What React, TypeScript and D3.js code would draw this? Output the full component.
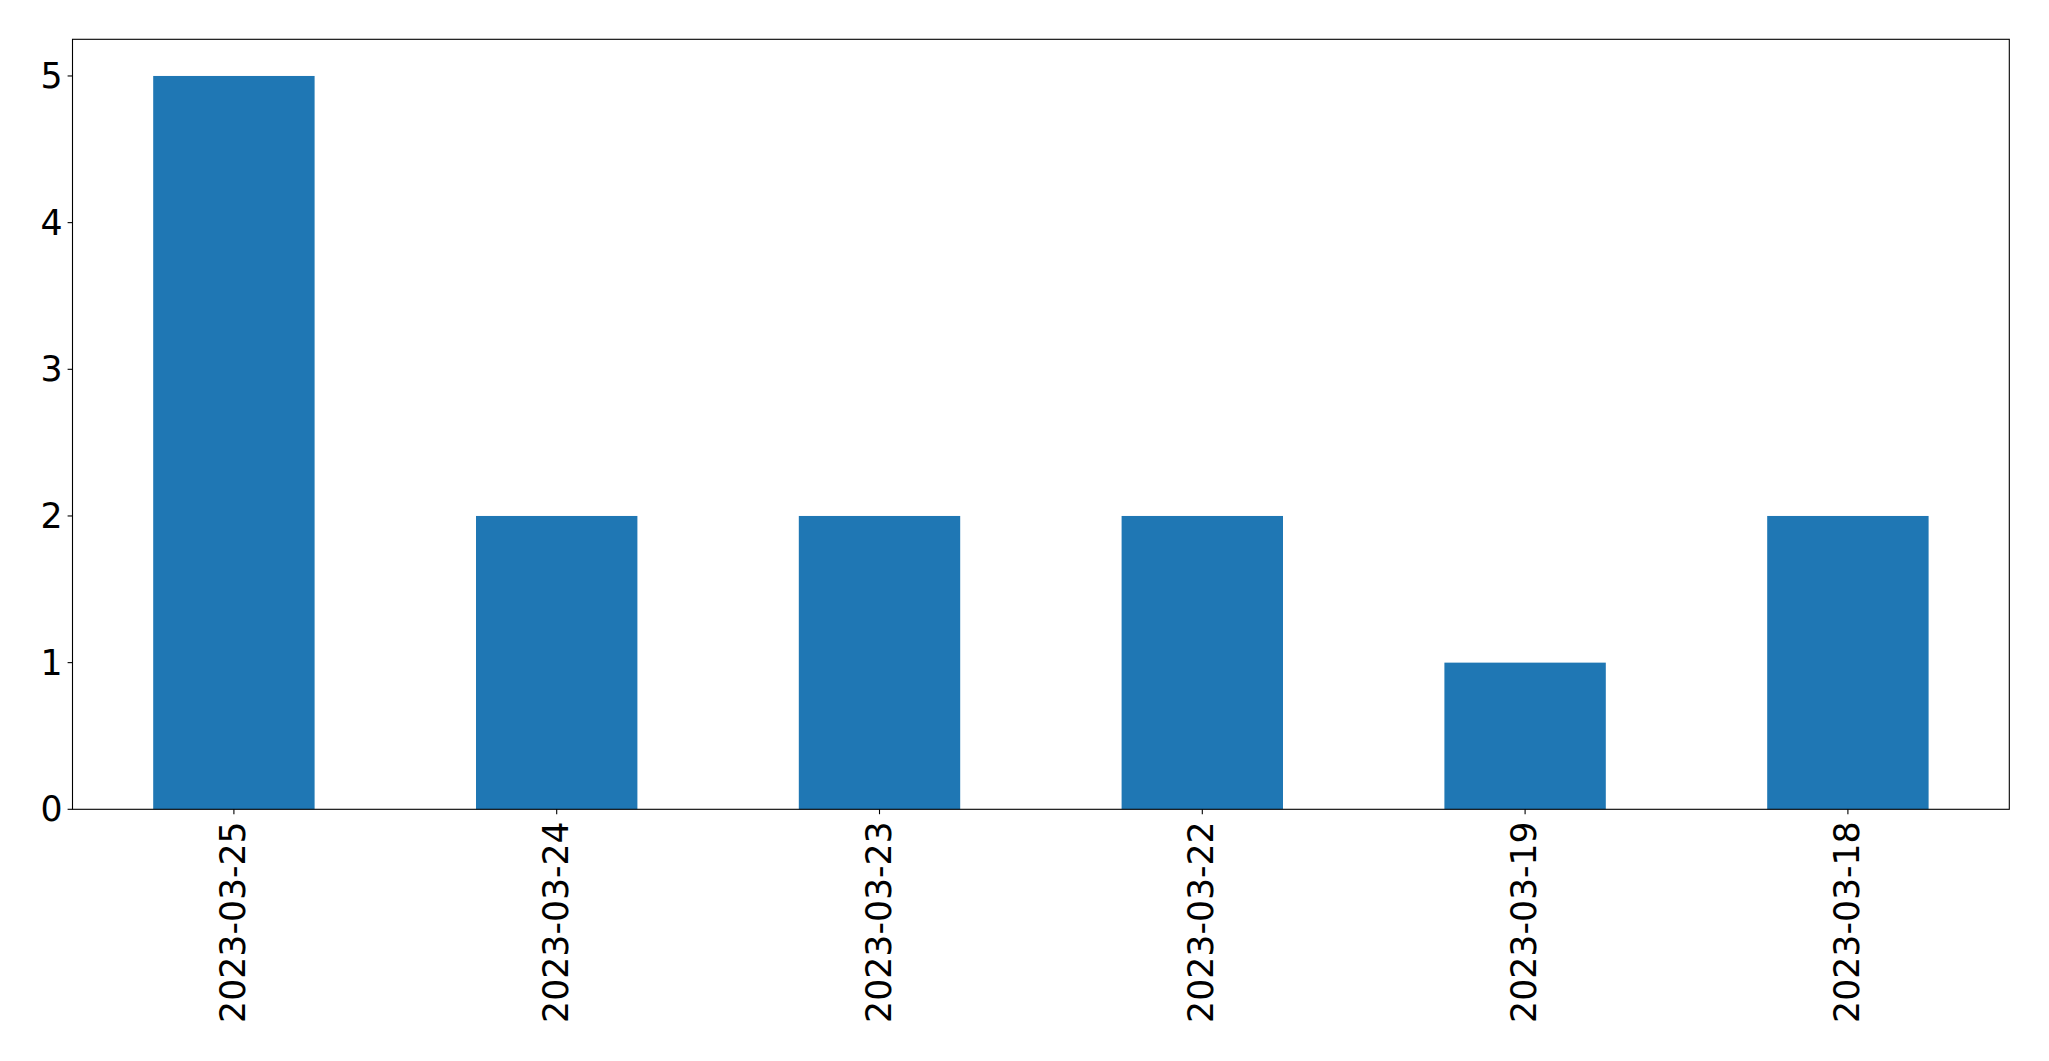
import React from "react";
import * as d3 from "d3";

const categories = ["2023-03-25", "2023-03-24", "2023-03-23", "2023-03-22", "2023-03-19", "2023-03-18"];
const values = [5, 2, 2, 2, 1, 2];
const yTicks = [0, 1, 2, 3, 4, 5];

const W = 2049;
const H = 1061;
const left = 72.5;
const right = 2009.3;
const top = 39.3;
const bottom = 809.3;
const fontSize = 34.7;
const font = "DejaVu Sans, sans-serif";

export default function App() {
  const x = d3.scaleLinear().domain([-0.5, categories.length - 0.5]).range([left, right]);
  const y = d3.scaleLinear().domain([0, 5.25]).range([bottom, top]);
  const bw = x(0.25) - x(-0.25);
  return (
    <svg width={W} height={H} style={{ position: "absolute", left: 0, top: 0 }}>
      <rect x={0} y={0} width={W} height={H} fill="white" />
      {values.map((v, i) => (
        <rect key={i} x={x(i) - bw / 2} y={y(v)} width={bw} height={y(0) - y(v)} fill="#1f77b4" />
      ))}
      <rect x={left} y={top} width={right - left} height={bottom - top} fill="none" stroke="black" strokeWidth={1.1} />
      {yTicks.map((t) => (
        <g key={t}>
          <line x1={left - 4.9} x2={left} y1={y(t)} y2={y(t)} stroke="black" strokeWidth={1.1} />
          <text x={left - 9.8} y={y(t)} textAnchor="end" dominantBaseline="central" fontFamily={font} fontSize={fontSize} fill="black">
            {t}
          </text>
        </g>
      ))}
      {categories.map((c, i) => (
        <g key={c}>
          <line x1={x(i)} x2={x(i)} y1={bottom} y2={bottom + 4.9} stroke="black" strokeWidth={1.1} />
          <text
            transform={`translate(${x(i) - 1},${bottom + 12}) rotate(-90)`}
            textAnchor="end"
            dominantBaseline="central"
            fontFamily={font}
            fontSize={fontSize}
            fill="black"
          >
            {c}
          </text>
        </g>
      ))}
    </svg>
  );
}
